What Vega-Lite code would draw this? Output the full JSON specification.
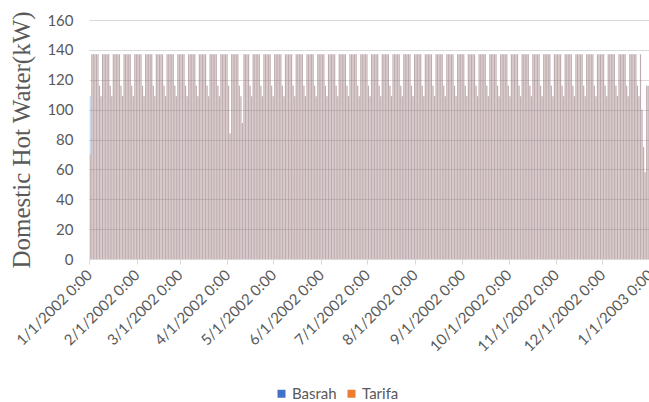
{
"$schema": "https://vega.github.io/schema/vega-lite/v6.json",
"width": 561,
"height": 239,
"autosize": {"type": "none"},
"padding": {"left": 89, "top": 20, "right": 0, "bottom": 143},
"background": "white",
"config": {"view": {"stroke": null}, "font": "Lato"},
"data": {"values": [
{"d":"2002-01-01","Basrah":109,"Tarifa":70},
{"d":"2002-01-02","Basrah":137,"Tarifa":137},
{"d":"2002-01-03","Basrah":137,"Tarifa":137},
{"d":"2002-01-04","Basrah":137,"Tarifa":137},
{"d":"2002-01-05","Basrah":137,"Tarifa":137},
{"d":"2002-01-06","Basrah":137,"Tarifa":137},
{"d":"2002-01-07","Basrah":116,"Tarifa":116},
{"d":"2002-01-08","Basrah":109,"Tarifa":109},
{"d":"2002-01-09","Basrah":137,"Tarifa":137},
{"d":"2002-01-10","Basrah":137,"Tarifa":137},
{"d":"2002-01-11","Basrah":137,"Tarifa":137},
{"d":"2002-01-12","Basrah":137,"Tarifa":137},
{"d":"2002-01-13","Basrah":137,"Tarifa":137},
{"d":"2002-01-14","Basrah":116,"Tarifa":116},
{"d":"2002-01-15","Basrah":109,"Tarifa":109},
{"d":"2002-01-16","Basrah":137,"Tarifa":137},
{"d":"2002-01-17","Basrah":137,"Tarifa":137},
{"d":"2002-01-18","Basrah":137,"Tarifa":137},
{"d":"2002-01-19","Basrah":137,"Tarifa":137},
{"d":"2002-01-20","Basrah":137,"Tarifa":137},
{"d":"2002-01-21","Basrah":116,"Tarifa":116},
{"d":"2002-01-22","Basrah":109,"Tarifa":109},
{"d":"2002-01-23","Basrah":137,"Tarifa":137},
{"d":"2002-01-24","Basrah":137,"Tarifa":137},
{"d":"2002-01-25","Basrah":137,"Tarifa":137},
{"d":"2002-01-26","Basrah":137,"Tarifa":137},
{"d":"2002-01-27","Basrah":137,"Tarifa":137},
{"d":"2002-01-28","Basrah":116,"Tarifa":116},
{"d":"2002-01-29","Basrah":109,"Tarifa":109},
{"d":"2002-01-30","Basrah":137,"Tarifa":137},
{"d":"2002-01-31","Basrah":137,"Tarifa":137},
{"d":"2002-02-01","Basrah":137,"Tarifa":137},
{"d":"2002-02-02","Basrah":137,"Tarifa":137},
{"d":"2002-02-03","Basrah":137,"Tarifa":137},
{"d":"2002-02-04","Basrah":116,"Tarifa":116},
{"d":"2002-02-05","Basrah":109,"Tarifa":109},
{"d":"2002-02-06","Basrah":137,"Tarifa":137},
{"d":"2002-02-07","Basrah":137,"Tarifa":137},
{"d":"2002-02-08","Basrah":137,"Tarifa":137},
{"d":"2002-02-09","Basrah":137,"Tarifa":137},
{"d":"2002-02-10","Basrah":137,"Tarifa":137},
{"d":"2002-02-11","Basrah":116,"Tarifa":116},
{"d":"2002-02-12","Basrah":109,"Tarifa":109},
{"d":"2002-02-13","Basrah":137,"Tarifa":137},
{"d":"2002-02-14","Basrah":137,"Tarifa":137},
{"d":"2002-02-15","Basrah":137,"Tarifa":137},
{"d":"2002-02-16","Basrah":137,"Tarifa":137},
{"d":"2002-02-17","Basrah":137,"Tarifa":137},
{"d":"2002-02-18","Basrah":116,"Tarifa":116},
{"d":"2002-02-19","Basrah":109,"Tarifa":109},
{"d":"2002-02-20","Basrah":137,"Tarifa":137},
{"d":"2002-02-21","Basrah":137,"Tarifa":137},
{"d":"2002-02-22","Basrah":137,"Tarifa":137},
{"d":"2002-02-23","Basrah":137,"Tarifa":137},
{"d":"2002-02-24","Basrah":137,"Tarifa":137},
{"d":"2002-02-25","Basrah":116,"Tarifa":116},
{"d":"2002-02-26","Basrah":109,"Tarifa":109},
{"d":"2002-02-27","Basrah":137,"Tarifa":137},
{"d":"2002-02-28","Basrah":137,"Tarifa":137},
{"d":"2002-03-01","Basrah":137,"Tarifa":137},
{"d":"2002-03-02","Basrah":137,"Tarifa":137},
{"d":"2002-03-03","Basrah":137,"Tarifa":137},
{"d":"2002-03-04","Basrah":116,"Tarifa":116},
{"d":"2002-03-05","Basrah":109,"Tarifa":109},
{"d":"2002-03-06","Basrah":137,"Tarifa":137},
{"d":"2002-03-07","Basrah":137,"Tarifa":137},
{"d":"2002-03-08","Basrah":137,"Tarifa":137},
{"d":"2002-03-09","Basrah":137,"Tarifa":137},
{"d":"2002-03-10","Basrah":137,"Tarifa":137},
{"d":"2002-03-11","Basrah":116,"Tarifa":116},
{"d":"2002-03-12","Basrah":109,"Tarifa":109},
{"d":"2002-03-13","Basrah":137,"Tarifa":137},
{"d":"2002-03-14","Basrah":137,"Tarifa":137},
{"d":"2002-03-15","Basrah":137,"Tarifa":137},
{"d":"2002-03-16","Basrah":137,"Tarifa":137},
{"d":"2002-03-17","Basrah":137,"Tarifa":137},
{"d":"2002-03-18","Basrah":116,"Tarifa":116},
{"d":"2002-03-19","Basrah":109,"Tarifa":109},
{"d":"2002-03-20","Basrah":137,"Tarifa":137},
{"d":"2002-03-21","Basrah":137,"Tarifa":137},
{"d":"2002-03-22","Basrah":137,"Tarifa":137},
{"d":"2002-03-23","Basrah":137,"Tarifa":137},
{"d":"2002-03-24","Basrah":137,"Tarifa":137},
{"d":"2002-03-25","Basrah":116,"Tarifa":116},
{"d":"2002-03-26","Basrah":109,"Tarifa":109},
{"d":"2002-03-27","Basrah":137,"Tarifa":137},
{"d":"2002-03-28","Basrah":137,"Tarifa":137},
{"d":"2002-03-29","Basrah":137,"Tarifa":137},
{"d":"2002-03-30","Basrah":137,"Tarifa":137},
{"d":"2002-03-31","Basrah":137,"Tarifa":137},
{"d":"2002-04-01","Basrah":116,"Tarifa":116},
{"d":"2002-04-02","Basrah":84,"Tarifa":84},
{"d":"2002-04-03","Basrah":137,"Tarifa":137},
{"d":"2002-04-04","Basrah":137,"Tarifa":137},
{"d":"2002-04-05","Basrah":137,"Tarifa":137},
{"d":"2002-04-06","Basrah":137,"Tarifa":137},
{"d":"2002-04-07","Basrah":137,"Tarifa":137},
{"d":"2002-04-08","Basrah":116,"Tarifa":116},
{"d":"2002-04-09","Basrah":109,"Tarifa":109},
{"d":"2002-04-10","Basrah":91,"Tarifa":91},
{"d":"2002-04-11","Basrah":137,"Tarifa":137},
{"d":"2002-04-12","Basrah":137,"Tarifa":137},
{"d":"2002-04-13","Basrah":137,"Tarifa":137},
{"d":"2002-04-14","Basrah":137,"Tarifa":137},
{"d":"2002-04-15","Basrah":116,"Tarifa":116},
{"d":"2002-04-16","Basrah":109,"Tarifa":109},
{"d":"2002-04-17","Basrah":137,"Tarifa":137},
{"d":"2002-04-18","Basrah":137,"Tarifa":137},
{"d":"2002-04-19","Basrah":137,"Tarifa":137},
{"d":"2002-04-20","Basrah":137,"Tarifa":137},
{"d":"2002-04-21","Basrah":137,"Tarifa":137},
{"d":"2002-04-22","Basrah":116,"Tarifa":116},
{"d":"2002-04-23","Basrah":109,"Tarifa":109},
{"d":"2002-04-24","Basrah":137,"Tarifa":137},
{"d":"2002-04-25","Basrah":137,"Tarifa":137},
{"d":"2002-04-26","Basrah":137,"Tarifa":137},
{"d":"2002-04-27","Basrah":137,"Tarifa":137},
{"d":"2002-04-28","Basrah":137,"Tarifa":137},
{"d":"2002-04-29","Basrah":116,"Tarifa":116},
{"d":"2002-04-30","Basrah":109,"Tarifa":109},
{"d":"2002-05-01","Basrah":137,"Tarifa":137},
{"d":"2002-05-02","Basrah":137,"Tarifa":137},
{"d":"2002-05-03","Basrah":137,"Tarifa":137},
{"d":"2002-05-04","Basrah":137,"Tarifa":137},
{"d":"2002-05-05","Basrah":137,"Tarifa":137},
{"d":"2002-05-06","Basrah":116,"Tarifa":116},
{"d":"2002-05-07","Basrah":109,"Tarifa":109},
{"d":"2002-05-08","Basrah":137,"Tarifa":137},
{"d":"2002-05-09","Basrah":137,"Tarifa":137},
{"d":"2002-05-10","Basrah":137,"Tarifa":137},
{"d":"2002-05-11","Basrah":137,"Tarifa":137},
{"d":"2002-05-12","Basrah":137,"Tarifa":137},
{"d":"2002-05-13","Basrah":116,"Tarifa":116},
{"d":"2002-05-14","Basrah":109,"Tarifa":109},
{"d":"2002-05-15","Basrah":137,"Tarifa":137},
{"d":"2002-05-16","Basrah":137,"Tarifa":137},
{"d":"2002-05-17","Basrah":137,"Tarifa":137},
{"d":"2002-05-18","Basrah":137,"Tarifa":137},
{"d":"2002-05-19","Basrah":137,"Tarifa":137},
{"d":"2002-05-20","Basrah":116,"Tarifa":116},
{"d":"2002-05-21","Basrah":109,"Tarifa":109},
{"d":"2002-05-22","Basrah":137,"Tarifa":137},
{"d":"2002-05-23","Basrah":137,"Tarifa":137},
{"d":"2002-05-24","Basrah":137,"Tarifa":137},
{"d":"2002-05-25","Basrah":137,"Tarifa":137},
{"d":"2002-05-26","Basrah":137,"Tarifa":137},
{"d":"2002-05-27","Basrah":116,"Tarifa":116},
{"d":"2002-05-28","Basrah":109,"Tarifa":109},
{"d":"2002-05-29","Basrah":137,"Tarifa":137},
{"d":"2002-05-30","Basrah":137,"Tarifa":137},
{"d":"2002-05-31","Basrah":137,"Tarifa":137},
{"d":"2002-06-01","Basrah":137,"Tarifa":137},
{"d":"2002-06-02","Basrah":137,"Tarifa":137},
{"d":"2002-06-03","Basrah":116,"Tarifa":116},
{"d":"2002-06-04","Basrah":109,"Tarifa":109},
{"d":"2002-06-05","Basrah":137,"Tarifa":137},
{"d":"2002-06-06","Basrah":137,"Tarifa":137},
{"d":"2002-06-07","Basrah":137,"Tarifa":137},
{"d":"2002-06-08","Basrah":137,"Tarifa":137},
{"d":"2002-06-09","Basrah":137,"Tarifa":137},
{"d":"2002-06-10","Basrah":116,"Tarifa":116},
{"d":"2002-06-11","Basrah":109,"Tarifa":109},
{"d":"2002-06-12","Basrah":137,"Tarifa":137},
{"d":"2002-06-13","Basrah":137,"Tarifa":137},
{"d":"2002-06-14","Basrah":137,"Tarifa":137},
{"d":"2002-06-15","Basrah":137,"Tarifa":137},
{"d":"2002-06-16","Basrah":137,"Tarifa":137},
{"d":"2002-06-17","Basrah":116,"Tarifa":116},
{"d":"2002-06-18","Basrah":109,"Tarifa":109},
{"d":"2002-06-19","Basrah":137,"Tarifa":137},
{"d":"2002-06-20","Basrah":137,"Tarifa":137},
{"d":"2002-06-21","Basrah":137,"Tarifa":137},
{"d":"2002-06-22","Basrah":137,"Tarifa":137},
{"d":"2002-06-23","Basrah":137,"Tarifa":137},
{"d":"2002-06-24","Basrah":116,"Tarifa":116},
{"d":"2002-06-25","Basrah":109,"Tarifa":109},
{"d":"2002-06-26","Basrah":137,"Tarifa":137},
{"d":"2002-06-27","Basrah":137,"Tarifa":137},
{"d":"2002-06-28","Basrah":137,"Tarifa":137},
{"d":"2002-06-29","Basrah":137,"Tarifa":137},
{"d":"2002-06-30","Basrah":137,"Tarifa":137},
{"d":"2002-07-01","Basrah":116,"Tarifa":116},
{"d":"2002-07-02","Basrah":109,"Tarifa":109},
{"d":"2002-07-03","Basrah":137,"Tarifa":137},
{"d":"2002-07-04","Basrah":137,"Tarifa":137},
{"d":"2002-07-05","Basrah":137,"Tarifa":137},
{"d":"2002-07-06","Basrah":137,"Tarifa":137},
{"d":"2002-07-07","Basrah":137,"Tarifa":137},
{"d":"2002-07-08","Basrah":116,"Tarifa":116},
{"d":"2002-07-09","Basrah":109,"Tarifa":109},
{"d":"2002-07-10","Basrah":137,"Tarifa":137},
{"d":"2002-07-11","Basrah":137,"Tarifa":137},
{"d":"2002-07-12","Basrah":137,"Tarifa":137},
{"d":"2002-07-13","Basrah":137,"Tarifa":137},
{"d":"2002-07-14","Basrah":137,"Tarifa":137},
{"d":"2002-07-15","Basrah":116,"Tarifa":116},
{"d":"2002-07-16","Basrah":109,"Tarifa":109},
{"d":"2002-07-17","Basrah":137,"Tarifa":137},
{"d":"2002-07-18","Basrah":137,"Tarifa":137},
{"d":"2002-07-19","Basrah":137,"Tarifa":137},
{"d":"2002-07-20","Basrah":137,"Tarifa":137},
{"d":"2002-07-21","Basrah":137,"Tarifa":137},
{"d":"2002-07-22","Basrah":116,"Tarifa":116},
{"d":"2002-07-23","Basrah":109,"Tarifa":109},
{"d":"2002-07-24","Basrah":137,"Tarifa":137},
{"d":"2002-07-25","Basrah":137,"Tarifa":137},
{"d":"2002-07-26","Basrah":137,"Tarifa":137},
{"d":"2002-07-27","Basrah":137,"Tarifa":137},
{"d":"2002-07-28","Basrah":137,"Tarifa":137},
{"d":"2002-07-29","Basrah":116,"Tarifa":116},
{"d":"2002-07-30","Basrah":109,"Tarifa":109},
{"d":"2002-07-31","Basrah":137,"Tarifa":137},
{"d":"2002-08-01","Basrah":137,"Tarifa":137},
{"d":"2002-08-02","Basrah":137,"Tarifa":137},
{"d":"2002-08-03","Basrah":137,"Tarifa":137},
{"d":"2002-08-04","Basrah":137,"Tarifa":137},
{"d":"2002-08-05","Basrah":116,"Tarifa":116},
{"d":"2002-08-06","Basrah":109,"Tarifa":109},
{"d":"2002-08-07","Basrah":137,"Tarifa":137},
{"d":"2002-08-08","Basrah":137,"Tarifa":137},
{"d":"2002-08-09","Basrah":137,"Tarifa":137},
{"d":"2002-08-10","Basrah":137,"Tarifa":137},
{"d":"2002-08-11","Basrah":137,"Tarifa":137},
{"d":"2002-08-12","Basrah":116,"Tarifa":116},
{"d":"2002-08-13","Basrah":109,"Tarifa":109},
{"d":"2002-08-14","Basrah":137,"Tarifa":137},
{"d":"2002-08-15","Basrah":137,"Tarifa":137},
{"d":"2002-08-16","Basrah":137,"Tarifa":137},
{"d":"2002-08-17","Basrah":137,"Tarifa":137},
{"d":"2002-08-18","Basrah":137,"Tarifa":137},
{"d":"2002-08-19","Basrah":116,"Tarifa":116},
{"d":"2002-08-20","Basrah":109,"Tarifa":109},
{"d":"2002-08-21","Basrah":137,"Tarifa":137},
{"d":"2002-08-22","Basrah":137,"Tarifa":137},
{"d":"2002-08-23","Basrah":137,"Tarifa":137},
{"d":"2002-08-24","Basrah":137,"Tarifa":137},
{"d":"2002-08-25","Basrah":137,"Tarifa":137},
{"d":"2002-08-26","Basrah":116,"Tarifa":116},
{"d":"2002-08-27","Basrah":109,"Tarifa":109},
{"d":"2002-08-28","Basrah":137,"Tarifa":137},
{"d":"2002-08-29","Basrah":137,"Tarifa":137},
{"d":"2002-08-30","Basrah":137,"Tarifa":137},
{"d":"2002-08-31","Basrah":137,"Tarifa":137},
{"d":"2002-09-01","Basrah":137,"Tarifa":137},
{"d":"2002-09-02","Basrah":116,"Tarifa":116},
{"d":"2002-09-03","Basrah":109,"Tarifa":109},
{"d":"2002-09-04","Basrah":137,"Tarifa":137},
{"d":"2002-09-05","Basrah":137,"Tarifa":137},
{"d":"2002-09-06","Basrah":137,"Tarifa":137},
{"d":"2002-09-07","Basrah":137,"Tarifa":137},
{"d":"2002-09-08","Basrah":137,"Tarifa":137},
{"d":"2002-09-09","Basrah":116,"Tarifa":116},
{"d":"2002-09-10","Basrah":109,"Tarifa":109},
{"d":"2002-09-11","Basrah":137,"Tarifa":137},
{"d":"2002-09-12","Basrah":137,"Tarifa":137},
{"d":"2002-09-13","Basrah":137,"Tarifa":137},
{"d":"2002-09-14","Basrah":137,"Tarifa":137},
{"d":"2002-09-15","Basrah":137,"Tarifa":137},
{"d":"2002-09-16","Basrah":116,"Tarifa":116},
{"d":"2002-09-17","Basrah":109,"Tarifa":109},
{"d":"2002-09-18","Basrah":137,"Tarifa":137},
{"d":"2002-09-19","Basrah":137,"Tarifa":137},
{"d":"2002-09-20","Basrah":137,"Tarifa":137},
{"d":"2002-09-21","Basrah":137,"Tarifa":137},
{"d":"2002-09-22","Basrah":137,"Tarifa":137},
{"d":"2002-09-23","Basrah":116,"Tarifa":116},
{"d":"2002-09-24","Basrah":109,"Tarifa":109},
{"d":"2002-09-25","Basrah":137,"Tarifa":137},
{"d":"2002-09-26","Basrah":137,"Tarifa":137},
{"d":"2002-09-27","Basrah":137,"Tarifa":137},
{"d":"2002-09-28","Basrah":137,"Tarifa":137},
{"d":"2002-09-29","Basrah":137,"Tarifa":137},
{"d":"2002-09-30","Basrah":116,"Tarifa":116},
{"d":"2002-10-01","Basrah":109,"Tarifa":109},
{"d":"2002-10-02","Basrah":137,"Tarifa":137},
{"d":"2002-10-03","Basrah":137,"Tarifa":137},
{"d":"2002-10-04","Basrah":137,"Tarifa":137},
{"d":"2002-10-05","Basrah":137,"Tarifa":137},
{"d":"2002-10-06","Basrah":137,"Tarifa":137},
{"d":"2002-10-07","Basrah":116,"Tarifa":116},
{"d":"2002-10-08","Basrah":109,"Tarifa":109},
{"d":"2002-10-09","Basrah":137,"Tarifa":137},
{"d":"2002-10-10","Basrah":137,"Tarifa":137},
{"d":"2002-10-11","Basrah":137,"Tarifa":137},
{"d":"2002-10-12","Basrah":137,"Tarifa":137},
{"d":"2002-10-13","Basrah":137,"Tarifa":137},
{"d":"2002-10-14","Basrah":116,"Tarifa":116},
{"d":"2002-10-15","Basrah":109,"Tarifa":109},
{"d":"2002-10-16","Basrah":137,"Tarifa":137},
{"d":"2002-10-17","Basrah":137,"Tarifa":137},
{"d":"2002-10-18","Basrah":137,"Tarifa":137},
{"d":"2002-10-19","Basrah":137,"Tarifa":137},
{"d":"2002-10-20","Basrah":137,"Tarifa":137},
{"d":"2002-10-21","Basrah":116,"Tarifa":116},
{"d":"2002-10-22","Basrah":109,"Tarifa":109},
{"d":"2002-10-23","Basrah":137,"Tarifa":137},
{"d":"2002-10-24","Basrah":137,"Tarifa":137},
{"d":"2002-10-25","Basrah":137,"Tarifa":137},
{"d":"2002-10-26","Basrah":137,"Tarifa":137},
{"d":"2002-10-27","Basrah":137,"Tarifa":137},
{"d":"2002-10-28","Basrah":116,"Tarifa":116},
{"d":"2002-10-29","Basrah":109,"Tarifa":109},
{"d":"2002-10-30","Basrah":137,"Tarifa":137},
{"d":"2002-10-31","Basrah":137,"Tarifa":137},
{"d":"2002-11-01","Basrah":137,"Tarifa":137},
{"d":"2002-11-02","Basrah":137,"Tarifa":137},
{"d":"2002-11-03","Basrah":137,"Tarifa":137},
{"d":"2002-11-04","Basrah":116,"Tarifa":116},
{"d":"2002-11-05","Basrah":109,"Tarifa":109},
{"d":"2002-11-06","Basrah":137,"Tarifa":137},
{"d":"2002-11-07","Basrah":137,"Tarifa":137},
{"d":"2002-11-08","Basrah":137,"Tarifa":137},
{"d":"2002-11-09","Basrah":137,"Tarifa":137},
{"d":"2002-11-10","Basrah":137,"Tarifa":137},
{"d":"2002-11-11","Basrah":116,"Tarifa":116},
{"d":"2002-11-12","Basrah":109,"Tarifa":109},
{"d":"2002-11-13","Basrah":137,"Tarifa":137},
{"d":"2002-11-14","Basrah":137,"Tarifa":137},
{"d":"2002-11-15","Basrah":137,"Tarifa":137},
{"d":"2002-11-16","Basrah":137,"Tarifa":137},
{"d":"2002-11-17","Basrah":137,"Tarifa":137},
{"d":"2002-11-18","Basrah":116,"Tarifa":116},
{"d":"2002-11-19","Basrah":109,"Tarifa":109},
{"d":"2002-11-20","Basrah":137,"Tarifa":137},
{"d":"2002-11-21","Basrah":137,"Tarifa":137},
{"d":"2002-11-22","Basrah":137,"Tarifa":137},
{"d":"2002-11-23","Basrah":137,"Tarifa":137},
{"d":"2002-11-24","Basrah":137,"Tarifa":137},
{"d":"2002-11-25","Basrah":116,"Tarifa":116},
{"d":"2002-11-26","Basrah":109,"Tarifa":109},
{"d":"2002-11-27","Basrah":137,"Tarifa":137},
{"d":"2002-11-28","Basrah":137,"Tarifa":137},
{"d":"2002-11-29","Basrah":137,"Tarifa":137},
{"d":"2002-11-30","Basrah":137,"Tarifa":137},
{"d":"2002-12-01","Basrah":137,"Tarifa":137},
{"d":"2002-12-02","Basrah":116,"Tarifa":116},
{"d":"2002-12-03","Basrah":109,"Tarifa":109},
{"d":"2002-12-04","Basrah":137,"Tarifa":137},
{"d":"2002-12-05","Basrah":137,"Tarifa":137},
{"d":"2002-12-06","Basrah":137,"Tarifa":137},
{"d":"2002-12-07","Basrah":137,"Tarifa":137},
{"d":"2002-12-08","Basrah":137,"Tarifa":137},
{"d":"2002-12-09","Basrah":116,"Tarifa":116},
{"d":"2002-12-10","Basrah":109,"Tarifa":109},
{"d":"2002-12-11","Basrah":137,"Tarifa":137},
{"d":"2002-12-12","Basrah":137,"Tarifa":137},
{"d":"2002-12-13","Basrah":137,"Tarifa":137},
{"d":"2002-12-14","Basrah":137,"Tarifa":137},
{"d":"2002-12-15","Basrah":137,"Tarifa":137},
{"d":"2002-12-16","Basrah":116,"Tarifa":116},
{"d":"2002-12-17","Basrah":109,"Tarifa":109},
{"d":"2002-12-18","Basrah":137,"Tarifa":137},
{"d":"2002-12-19","Basrah":137,"Tarifa":137},
{"d":"2002-12-20","Basrah":137,"Tarifa":137},
{"d":"2002-12-21","Basrah":137,"Tarifa":137},
{"d":"2002-12-22","Basrah":137,"Tarifa":137},
{"d":"2002-12-23","Basrah":116,"Tarifa":116},
{"d":"2002-12-24","Basrah":109,"Tarifa":109},
{"d":"2002-12-25","Basrah":137,"Tarifa":137},
{"d":"2002-12-26","Basrah":100,"Tarifa":100},
{"d":"2002-12-27","Basrah":75,"Tarifa":75},
{"d":"2002-12-28","Basrah":58,"Tarifa":58},
{"d":"2002-12-29","Basrah":116,"Tarifa":116},
{"d":"2002-12-30","Basrah":116,"Tarifa":116},
{"d":"2002-12-31","Basrah":109,"Tarifa":109}
]},
"transform": [{"fold": ["Tarifa", "Basrah"], "as": ["series", "v"]}],
"encoding": {
  "x": {
    "field": "d", "timeUnit": "utcyearmonthdate", "type": "temporal", "title": null,
    "scale": {"domain": [{"year": 2002, "month": 1, "date": 1, "utc": true}, {"year": 2003, "month": 1, "date": 1, "utc": true}]},
    "axis": {
      "values": [
        {"year": 2002, "month": 1, "date": 1, "utc": true},
        {"year": 2002, "month": 2, "date": 1, "utc": true},
        {"year": 2002, "month": 3, "date": 1, "utc": true},
        {"year": 2002, "month": 4, "date": 1, "utc": true},
        {"year": 2002, "month": 5, "date": 1, "utc": true},
        {"year": 2002, "month": 6, "date": 1, "utc": true},
        {"year": 2002, "month": 7, "date": 1, "utc": true},
        {"year": 2002, "month": 8, "date": 1, "utc": true},
        {"year": 2002, "month": 9, "date": 1, "utc": true},
        {"year": 2002, "month": 10, "date": 1, "utc": true},
        {"year": 2002, "month": 11, "date": 1, "utc": true},
        {"year": 2002, "month": 12, "date": 1, "utc": true},
        {"year": 2003, "month": 1, "date": 1, "utc": true}
      ],
      "labelExpr": "utcFormat(datum.value, '%-m/%-d/%Y %-H:%M')",
      "labelAngle": -45, "labelAlign": "right", "labelBaseline": "middle",
      "labelFont": "Lato", "labelFontSize": 15, "labelColor": "#595959", "labelPadding": 8,
      "labelOverlap": false, "labelBound": false, "labelFlush": false,
      "grid": false, "domainColor": "#d9d9d9", "tickColor": "#d9d9d9", "tickSize": 5
    }
  },
  "y": {
    "field": "v", "type": "quantitative", "stack": null,
    "scale": {"domain": [0, 160]},
    "title": "Domestic Hot Water(kW)",
    "axis": {
      "values": [0, 20, 40, 60, 80, 100, 120, 140, 160],
      "domain": false, "ticks": false, "gridColor": "#d9d9d9",
      "labelFont": "Lato", "labelFontSize": 15, "labelColor": "#595959", "labelPadding": 16,
      "titleFont": "Liberation Serif", "titleFontSize": 25, "titleFontWeight": "normal", "titleColor": "#595959", "titlePadding": 12
    }
  },
  "color": {
    "field": "series", "type": "nominal",
    "scale": {"domain": ["Basrah", "Tarifa"], "range": ["#4472C4", "#ED7D31"]},
    "legend": {
      "title": null, "orient": "none", "legendX": 185, "legendY": 366, "direction": "horizontal",
      "symbolType": "square", "symbolSize": 64, "symbolOpacity": 1, "symbolStrokeWidth": 0,
      "labelFont": "Lato", "labelFontSize": 15, "labelColor": "#595959", "labelOffset": 3, "columnPadding": 7
    }
  }
},
"layer": [
  {"transform": [{"filter": "datum.series === 'Tarifa'"}], "mark": {"type": "bar", "binSpacing": 0.4, "opacity": 0.42}},
  {"transform": [{"filter": "datum.series === 'Basrah'"}], "mark": {"type": "bar", "binSpacing": 0.4, "opacity": 0.32}}
]
}
